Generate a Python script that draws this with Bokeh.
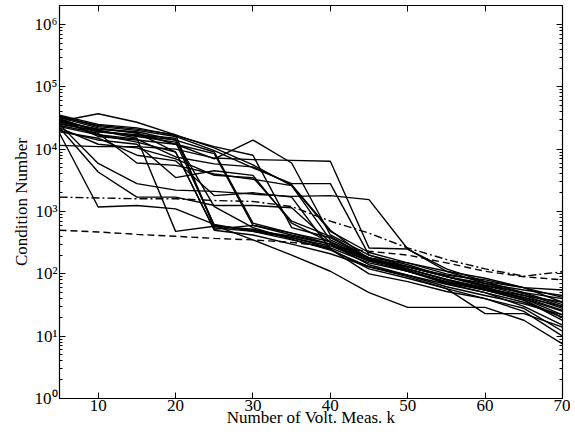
from bokeh.plotting import figure
from bokeh.models import FixedTicker, LogAxis, LinearAxis, Range1d
from bokeh.embed import file_html
from bokeh.resources import INLINE

# number of voltage measurements
k = [5, 10, 15, 20, 25, 30, 35, 40, 45, 50, 55, 60, 65, 70]

# condition numbers of the individual runs (solid lines)
run01 = [28000, 37000, 27000, 17000, 10500, 5600, 2600, 480, 220, 150, 110, 85, 60, 42]
run02 = [11500, 11000, 11000, 10000, 7200, 6800, 6600, 6400, 260, 250, 120, 75, 50, 32]
run03 = [25000, 5900, 2800, 2200, 2100, 1900, 1750, 1800, 1550, 250, 110, 70, 48, 30]
run04 = [18000, 1180, 1250, 1100, 620, 480, 380, 260, 150, 110, 70, 50, 35, 20]
run05 = [22000, 4300, 1700, 1700, 1250, 1250, 1150, 320, 170, 120, 80, 55, 42, 26]
run06 = [30000, 20000, 15000, 480, 580, 520, 380, 280, 160, 110, 75, 58, 45, 28]
run07 = [32000, 22000, 18000, 12000, 7000, 14000, 6000, 420, 200, 130, 90, 62, 40, 22]
run08 = [34000, 23000, 20000, 16000, 9500, 5000, 2800, 2800, 200, 140, 90, 65, 45, 35]
run09 = [26000, 19000, 17000, 15000, 600, 500, 400, 300, 170, 120, 80, 58, 40, 25]
run10 = [24000, 18000, 6000, 5500, 4000, 3300, 2600, 350, 180, 110, 75, 55, 38, 18]
run11 = [20000, 14000, 12000, 3500, 4500, 3800, 650, 320, 180, 130, 90, 65, 50, 40]
run12 = [27000, 21000, 19000, 14000, 9000, 650, 450, 330, 170, 130, 90, 70, 55, 45]
run13 = [30000, 16000, 14000, 12000, 8500, 600, 420, 300, 140, 95, 68, 50, 30, 15]
run14 = [22000, 12000, 10500, 7000, 3800, 3500, 700, 400, 180, 150, 100, 75, 60, 55]
run15 = [33000, 24000, 21000, 17000, 550, 480, 350, 250, 120, 85, 58, 40, 28, 12]
run16 = [29000, 17000, 13000, 9000, 500, 420, 300, 210, 130, 95, 62, 45, 33, 22]
run17 = [19000, 15000, 8000, 6500, 1800, 2000, 1700, 250, 100, 75, 52, 40, 25, 10]
run18 = [25000, 20000, 16000, 13000, 600, 350, 200, 110, 50, 29, 29, 29, 18, 7.5]
run19 = [31000, 19000, 16500, 14000, 1200, 550, 360, 240, 130, 90, 58, 23, 23, 14]
run20 = [23000, 17000, 14500, 7500, 5800, 5200, 2700, 500, 170, 115, 72, 55, 38, 20]
run21 = [28000, 21000, 18500, 9000, 520, 600, 450, 300, 160, 130, 95, 80, 60, 35]
run22 = [35000, 25000, 22000, 16500, 11000, 8000, 550, 380, 180, 120, 82, 60, 42, 30]

# reference curves
dashed_curve = [500, 470, 430, 400, 370, 350, 320, 270, 230, 200, 150, 110, 90, 80]
dashdot_curve = [1700, 1650, 1600, 1600, 1500, 1450, 1200, 700, 450, 260, 170, 120, 92, 108]

y_major = [1, 10, 100, 1000, 10000, 100000, 1000000]
y_labels = ["10\u2070", "10\u00b9", "10\u00b2", "10\u00b3", "10\u2074", "10\u2075", "10\u2076"]
x_major = [10, 20, 30, 40, 50, 60, 70]

runs = [run01, run02, run03, run04, run05, run06, run07, run08, run09, run10, run11,
        run12, run13, run14, run15, run16, run17, run18, run19, run20, run21, run22]

FONT = "Liberation Serif"

p = figure(width=570, height=432, x_range=Range1d(5, 70), y_range=Range1d(1, 10 ** 6.305),
           y_axis_type="log", output_backend="svg", toolbar_location=None,
           min_border_left=59, min_border_right=8, min_border_top=5, min_border_bottom=34)
p.xgrid.visible = False
p.ygrid.visible = False
p.outline_line_color = "black"
p.outline_line_width = 1.2
p.background_fill_color = "white"
p.border_fill_color = "white"

for r in runs:
    p.line(k, r, line_color="black", line_width=1.4)
p.line(k, dashed_curve, line_color="black", line_width=1.4, line_dash="7 4")
p.line(k, dashdot_curve, line_color="black", line_width=1.4, line_dash="8 3 2 3")

minor_y = [m * 10 ** e for e in range(0, 7) for m in range(2, 10)]

xb = p.xaxis[0]
yl = p.yaxis[0]
xb.ticker = FixedTicker(ticks=x_major)
yl.ticker = FixedTicker(ticks=y_major, minor_ticks=minor_y)
yl.major_label_overrides = {v: s for v, s in zip(y_major, y_labels)}

top = LinearAxis(ticker=FixedTicker(ticks=x_major))
right = LogAxis(ticker=FixedTicker(ticks=y_major, minor_ticks=minor_y))
p.add_layout(top, "above")
p.add_layout(right, "right")

for ax in [xb, yl, top, right]:
    ax.major_tick_in = 6
    ax.major_tick_out = 0
    ax.minor_tick_in = 3
    ax.minor_tick_out = 0
    ax.axis_line_color = "black"
    ax.major_tick_line_color = "black"
    ax.minor_tick_line_color = "black"
    ax.major_label_text_font = FONT
    ax.major_label_text_color = "black"
    ax.axis_label_text_font = FONT
    ax.axis_label_text_font_style = "normal"
    ax.axis_label_text_color = "black"

for ax in [top, right]:
    ax.major_label_text_font_size = "1px"
    ax.major_label_text_color = None
    ax.major_label_standoff = 0
    ax.axis_line_color = None

xb.major_label_text_font_size = "17px"
xb.major_label_standoff = 1
xb.axis_label = "Number of Volt. Meas. k"
xb.axis_label_text_font_size = "17px"
xb.axis_label_standoff = -6

yl.major_label_text_font_size = "17px"
yl.major_label_standoff = 2
yl.axis_label = "Condition Number"
yl.axis_label_text_font_size = "17px"
yl.axis_label_standoff = 1

open("out.html", "w").write(file_html(p, INLINE))
